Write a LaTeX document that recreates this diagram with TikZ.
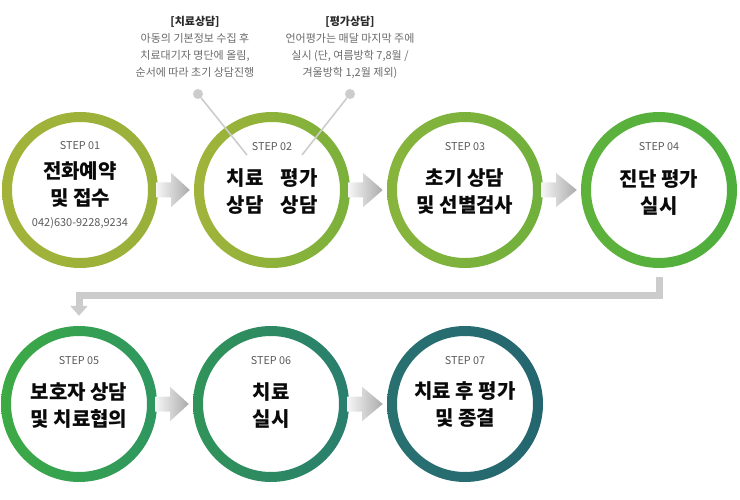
\documentclass[tikz,border=0pt]{standalone}
\usepackage{fontspec}
\setmainfont{Noto Sans CJK KR}
\usetikzlibrary{calc,arrows.meta}
\definecolor{ca1}{HTML}{A3B33A}\definecolor{cb1}{HTML}{98B03A}
\definecolor{ca2}{HTML}{A2B33A}\definecolor{cb2}{HTML}{7AB13B}
\definecolor{ca3}{HTML}{88B43C}\definecolor{cb3}{HTML}{70B03C}
\definecolor{ca4}{HTML}{5EB23C}\definecolor{cb4}{HTML}{4DAE3C}
\definecolor{ca5}{HTML}{3DAA44}\definecolor{cb5}{HTML}{2E9660}
\definecolor{ca6}{HTML}{309458}\definecolor{cb6}{HTML}{2A7E6E}
\definecolor{ca7}{HTML}{287170}\definecolor{cb7}{HTML}{24666F}
\definecolor{stepgray}{HTML}{5A5A5A}
\definecolor{titlek}{HTML}{0A0A0A}
\definecolor{notegray}{HTML}{6A6A6A}
\definecolor{notehead}{HTML}{2A2A2A}
\definecolor{linegray}{HTML}{CCCCCC}
\definecolor{arrowlight}{HTML}{F6F6F6}
\definecolor{arrowdark}{HTML}{ABABAB}
\tikzset{
  stepcircle/.style={circle,minimum size=156pt,inner sep=0pt},
  steplabel/.style={font=\fontsize{10.8}{12}\selectfont,text=stepgray,inner sep=0pt},
  titletext/.style={font=\fontsize{20}{27}\selectfont\bfseries,text=titlek,align=center,inner sep=0pt},
  phonetext/.style={font=\fontsize{11}{12}\selectfont,text=stepgray,inner sep=0pt},
  notetext/.style={font=\fontsize{11}{17}\selectfont,text=notegray,align=center,inner sep=0pt},
  notedot/.style={circle,fill=linegray,minimum size=10pt,inner sep=0pt},
  noteline/.style={draw=linegray,line width=1.6pt},
  conn/.style={draw=linegray,line width=7pt,-{Triangle[width=17pt,length=10pt]}},
}
\newcommand{\ringshade}[3]{%
  \shade[left color=#2,right color=#3,even odd rule] (#1) circle[radius=78pt] (#1) circle[radius=68pt];}
\newcommand{\grayarrow}[2]{%
  \shade[left color=arrowlight,right color=arrowdark]
    ($(#1.east)+(-2,-7.5)$) -- ($(#1.east)+(13,-7.5)$) -- ($(#1.east)+(13,-17)$) --
    ($(#2.west)+(-4,0)$) -- ($(#1.east)+(13,17)$) -- ($(#1.east)+(13,7.5)$) --
    ($(#1.east)+(-2,7.5)$) -- cycle;}
\begin{document}
\begin{tikzpicture}[x=1pt,y=-1pt]
\useasboundingbox (0,0) rectangle (740,500);
% circles
\node[stepcircle] (c1) at (80,190) {};
\node[stepcircle] (c2) at (272,190) {};
\node[stepcircle] (c3) at (465,190) {};
\node[stepcircle] (c4) at (659,190) {};
\node[stepcircle] (c5) at (79,404) {};
\node[stepcircle] (c6) at (271,404) {};
\node[stepcircle] (c7) at (465,404) {};
\ringshade{c1}{ca1}{cb1}
\ringshade{c2}{ca2}{cb2}
\ringshade{c3}{ca3}{cb3}
\ringshade{c4}{ca4}{cb4}
\ringshade{c5}{ca5}{cb5}
\ringshade{c6}{ca6}{cb6}
\ringshade{c7}{ca7}{cb7}
% arrows between circles
\grayarrow{c1}{c2}
\grayarrow{c2}{c3}
\grayarrow{c3}{c4}
\grayarrow{c5}{c6}
\grayarrow{c6}{c7}
% connector from step 4 to step 5
\coordinate (k1) at ($(c4.south)+(0,9)$);
\coordinate (k2) at ($(c5.north)+(0,-10)$);
\draw[conn] (k1) -- ++(0,18) -| (k2);
% notes
\node[notedot] (d1) at (198,94) {};
\node[notedot] (d2) at (350,94) {};
\coordinate (e1) at (247,155);
\coordinate (e2) at (302,155);
\draw[noteline] (d1) -- (e1);
\draw[noteline] (d2) -- (e2);
\node[notetext,anchor=north] (n1) at (195,16) {{\color{notehead}\bfseries [치료상담]}\\아동의 기본정보 수집 후\\치료대기자 명단에 올림,\\순서에 따라 초기 상담진행};
\node[notetext,anchor=north] (n2) at (350,16) {{\color{notehead}\bfseries [평가상담]}\\언어평가는 매달 마지막 주에\\실시 (단, 여름방학 7,8월 /\\겨울방학 1,2월 제외)};
% labels
\node[steplabel] (s1) at ($(c1)+(0,-44)$) {STEP 01};
\node[steplabel] (s2) at ($(c2)+(0,-43)$) {STEP 02};
\node[steplabel] (s3) at ($(c3)+(0,-43)$) {STEP 03};
\node[steplabel] (s4) at ($(c4)+(0,-43)$) {STEP 04};
\node[steplabel] (s5) at ($(c5)+(0,-43)$) {STEP 05};
\node[steplabel] (s6) at ($(c6)+(0,-43)$) {STEP 06};
\node[steplabel] (s7) at ($(c7)+(0,-43)$) {STEP 07};
% titles
\node[titletext] (t1) at ($(c1)+(0,-5.5)$) {전화예약\\및 접수};
\node[phonetext] (p1) at ($(c1)+(0,33)$) {042)630-9228,9234};
\node[titletext] (t2a) at ($(c2)+(-27,1.5)$) {치료\\상담};
\node[titletext] (t2b) at ($(c2)+(27,1.5)$) {평가\\상담};
\node[titletext] (t3) at ($(c3)+(0,2)$) {초기 상담\\및 선별검사};
\node[titletext] (t4) at ($(c4)+(0,3)$) {진단 평가\\실시};
\node[titletext] (t5) at ($(c5)+(0,1.5)$) {보호자 상담\\및 치료협의};
\node[titletext] (t6) at ($(c6)+(0,1.5)$) {치료\\실시};
\node[titletext] (t7) at ($(c7)+(0,1)$) {치료 후 평가\\및 종결};
\end{tikzpicture}
\end{document}
